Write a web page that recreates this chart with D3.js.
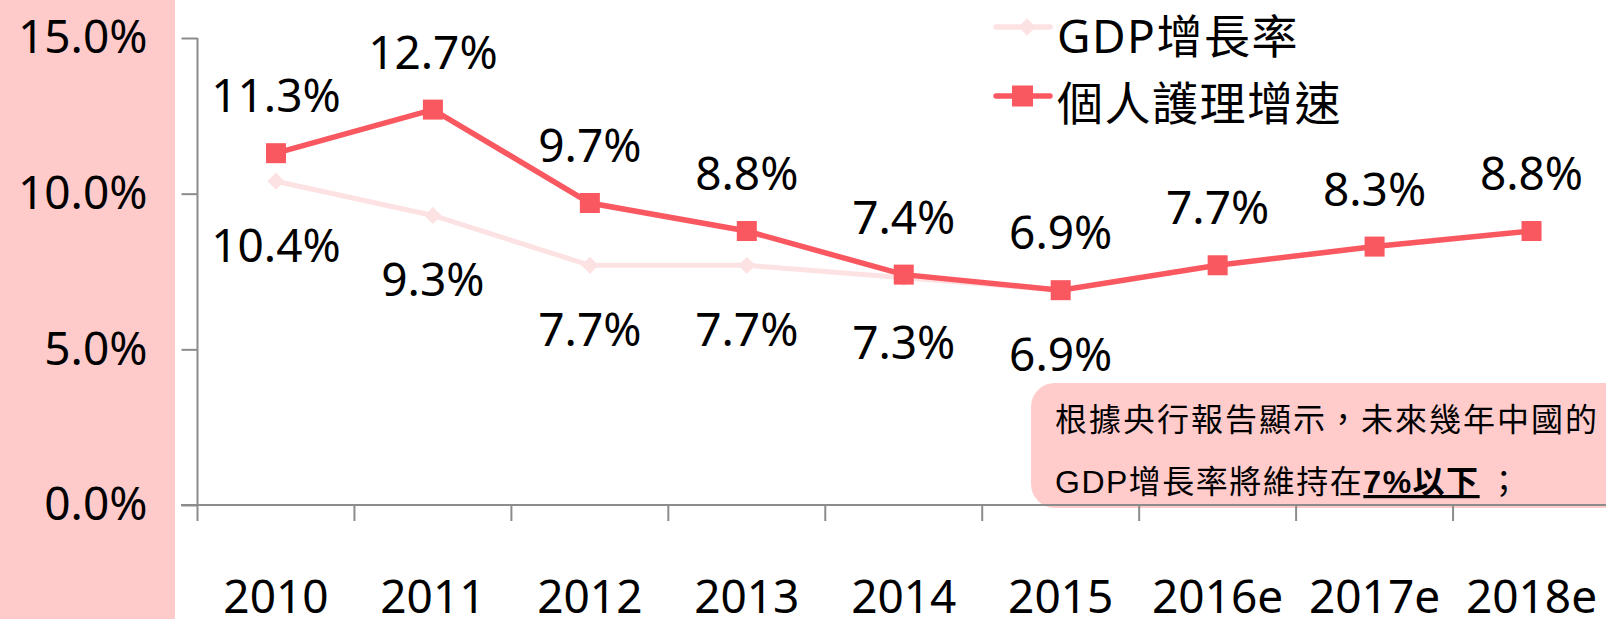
<!DOCTYPE html>
<html>
<head>
<meta charset="utf-8">
<script src="https://cdn.jsdelivr.net/npm/d3@7"></script>
<style>
  body { margin: 0; background: #fff; }
  text { font-family: "Noto Sans", "Noto Sans CJK TC", sans-serif; fill: #000; }
  text.note { font-family: "Liberation Sans", "Noto Sans CJK TC", sans-serif; }
</style>
</head>
<body>
<div id="chart"></div>
<script>
var years = ["2010", "2011", "2012", "2013", "2014", "2015", "2016e", "2017e", "2018e"];
var careGrowth = [11.3, 12.7, 9.7, 8.8, 7.4, 6.9, 7.7, 8.3, 8.8];
var gdpGrowth = [10.4, 9.3, 7.7, 7.7, 7.3, 6.9, null, null, null];
var yTicks = [0, 5, 10, 15];
var seriesNames = ["GDP增長率", "個人護理增速"];
var noteLine1 = "根據央行報告顯示，未來幾年中國的";
var noteLine2 = ["GDP增長率將維持在", "7%以下", "；"];

var W = 1606, H = 619;
var red = "#fa5860", pale = "#fde2e4", axisColor = "#8c8c8c";

var svg = d3.select("#chart").append("svg").attr("width", W).attr("height", H);

// pink band behind the y labels
svg.append("rect").attr("x", 0).attr("y", 0).attr("width", 175).attr("height", H).attr("fill", "#ffcaca");

var x = d3.scaleBand().domain(years).range([197.5, 1610]);
var y = d3.scaleLinear().domain([0, 15]).range([505, 38]);
var cx = function (d) { return x(d) + x.bandwidth() / 2; };

// annotation box (under the axis)
svg.append("rect")
  .attr("x", 1031).attr("y", 383).attr("width", 700).attr("height", 125)
  .attr("rx", 24).attr("fill", "#ffcbcb");

var note = svg.append("g").style("font-size", "32px");
note.append("text").attr("class", "note").attr("x", 1055).attr("y", 431)
  .style("letter-spacing", "2px").text(noteLine1);
var t2 = note.append("text").attr("class", "note").attr("x", 1055).attr("y", 493).style("letter-spacing", "1.5px");
t2.append("tspan").text(noteLine2[0]);
t2.append("tspan").style("font-weight", "bold").style("text-decoration", "underline").text(noteLine2[1]);
t2.append("tspan").attr("dx", 8).text(noteLine2[2]);

// y axis
var yAxis = svg.append("g").attr("transform", "translate(197.5,0)")
  .call(d3.axisLeft(y).tickValues(yTicks).tickSize(16).tickPadding(34).tickSizeOuter(0)
    .tickFormat(function (d) { return d.toFixed(1) + "%"; }));
yAxis.select(".domain").remove();
yAxis.selectAll(".tick line").attr("stroke", axisColor).attr("stroke-width", 2);
yAxis.selectAll(".tick text").style("font-size", "46px").attr("fill", "#000");
svg.append("line").attr("x1", 197.5).attr("x2", 197.5).attr("y1", y(15)).attr("y2", y(0) + 16)
  .attr("stroke", axisColor).attr("stroke-width", 2);

// x axis
var xAxis = svg.append("g").attr("transform", "translate(0," + y(0) + ")")
  .call(d3.axisBottom(x).tickSize(0));
xAxis.select(".domain").remove();
xAxis.selectAll(".tick text").attr("y", 108).attr("dy", null).style("font-size", "46px").attr("fill", "#000");
svg.append("line").attr("x1", 181).attr("x2", W).attr("y1", y(0)).attr("y2", y(0))
  .attr("stroke", axisColor).attr("stroke-width", 2);
svg.append("g").selectAll("line").data(years.slice(1)).join("line")
  .attr("x1", function (d) { return x(d); }).attr("x2", function (d) { return x(d); })
  .attr("y1", y(0)).attr("y2", y(0) + 16)
  .attr("stroke", axisColor).attr("stroke-width", 2);

// GDP line
var gdpPts = years.map(function (d, i) { return { k: d, v: gdpGrowth[i] }; })
  .filter(function (d) { return d.v != null; });
var line = d3.line().x(function (d) { return cx(d.k); }).y(function (d) { return y(d.v); });
svg.append("path").datum(gdpPts).attr("d", line)
  .attr("fill", "none").attr("stroke", pale).attr("stroke-width", 5);
var diamond = d3.symbol().type(d3.symbolDiamond2).size(190);
svg.append("g").selectAll("path").data(gdpPts).join("path")
  .attr("d", diamond)
  .attr("transform", function (d) { return "translate(" + cx(d.k) + "," + y(d.v) + ")"; })
  .attr("fill", pale);
svg.append("g").selectAll("text").data(gdpPts).join("text")
  .attr("x", function (d) { return cx(d.k); })
  .attr("y", function (d) { return y(d.v) + 81; })
  .attr("text-anchor", "middle").style("font-size", "46px")
  .text(function (d) { return d.v.toFixed(1) + "%"; });

// personal care line
var carePts = years.map(function (d, i) { return { k: d, v: careGrowth[i] }; });
svg.append("path").datum(carePts).attr("d", line)
  .attr("fill", "none").attr("stroke", red).attr("stroke-width", 5.5);
svg.append("g").selectAll("rect").data(carePts).join("rect")
  .attr("x", function (d) { return cx(d.k) - 10; })
  .attr("y", function (d) { return y(d.v) - 10; })
  .attr("width", 20).attr("height", 20).attr("fill", red);
svg.append("g").selectAll("text").data(carePts).join("text")
  .attr("x", function (d) { return cx(d.k); })
  .attr("y", function (d) { return y(d.v) - 41; })
  .attr("text-anchor", "middle").style("font-size", "46px")
  .text(function (d) { return d.v.toFixed(1) + "%"; });

// legend
var legend = svg.append("g");
[{ name: seriesNames[0], color: pale, ly: 27, ty: 53 }, { name: seriesNames[1], color: red, ly: 96, ty: 120 }]
  .forEach(function (s, i) {
    legend.append("line").attr("x1", 996).attr("x2", 1050).attr("y1", s.ly).attr("y2", s.ly)
      .attr("stroke", s.color).attr("stroke-width", 5.5).attr("stroke-linecap", "round");
    if (i === 0) {
      legend.append("path").attr("d", diamond).attr("transform", "translate(1027," + s.ly + ")").attr("fill", s.color);
    } else {
      legend.append("rect").attr("x", 1012).attr("y", s.ly - 10.5).attr("width", 21).attr("height", 21).attr("fill", s.color);
    }
    legend.append("text").attr("x", 1057).attr("y", s.ty).style("font-size", "46px")
      .style("letter-spacing", "1.5px").text(s.name);
  });
</script>
</body>
</html>
